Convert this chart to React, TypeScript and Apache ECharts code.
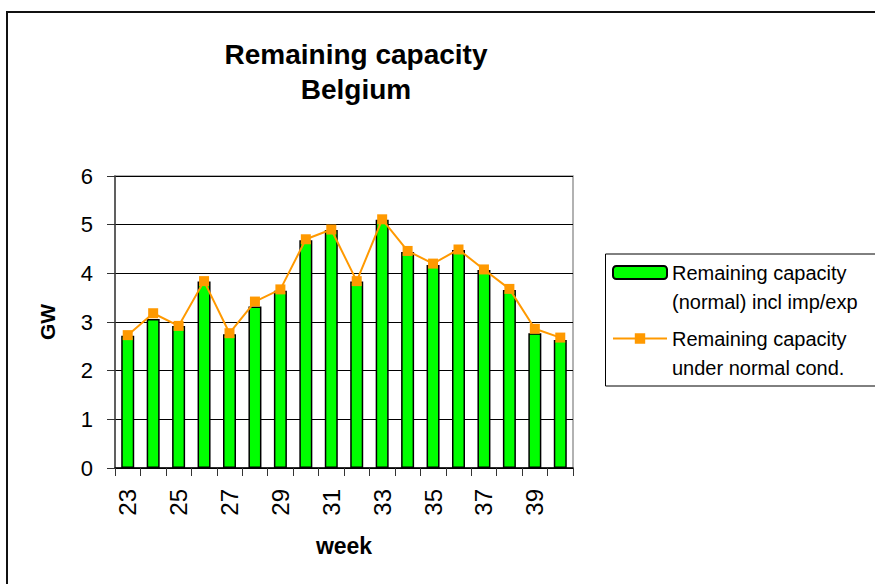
import React, { useEffect, useRef } from "react";
import * as echarts from "echarts";

const weeks = ["23","24","25","26","27","28","29","30","31","32","33","34","35","36","37","38","39","40"];
const barValues = [2.72, 3.06, 2.92, 3.83, 2.75, 3.32, 3.64, 4.68, 4.89, 3.83, 5.10, 4.44, 4.17, 4.48, 4.07, 3.66, 2.77, 2.63];
const lineValues = [2.73, 3.18, 2.92, 3.84, 2.77, 3.42, 3.67, 4.70, 4.90, 3.84, 5.11, 4.46, 4.20, 4.49, 4.08, 3.68, 2.86, 2.68];
const barName = "Remaining capacity\n(normal) incl imp/exp";
const lineName = "Remaining capacity\nunder normal cond.";
const titleText = "Remaining capacity\nBelgium";

const FONT = "'Liberation Sans', Arial, sans-serif";

export default function App() {
  const ref = useRef<HTMLDivElement>(null);
  useEffect(() => {
    if (!ref.current) return;
    const chart = echarts.init(ref.current, undefined, { renderer: "svg" });
    const legendText = {
      fontFamily: FONT,
      fontSize: 20,
      lineHeight: 29,
      color: "#000",
    };
    const legendBase = {
      orient: "vertical",
      left: 612,
      padding: 0,
      itemWidth: 54,
      itemHeight: 13,
      textStyle: legendText,
      selectedMode: false,
      formatter: (name: string) => "\n" + name,
    };
    chart.setOption({
      animation: false,
      backgroundColor: "#fff",
      title: {
        text: titleText,
        left: 356,
        top: 37,
        textAlign: "center",
        padding: 0,
        textStyle: {
          fontFamily: FONT,
          fontSize: 28,
          fontWeight: "bold",
          lineHeight: 35,
          color: "#000",
        },
      },
      graphic: [
        {
          type: "rect",
          shape: { x: 7, y: 12, width: 900, height: 600 },
          style: { fill: "none", stroke: "#111", lineWidth: 2 },
          silent: true,
        },
        {
          type: "rect",
          shape: { x: 605.5, y: 254, width: 300, height: 132 },
          style: { fill: "none", stroke: "#000", lineWidth: 1 },
          silent: true,
        },
      ],
      legend: [
        { ...legendBase, data: [barName], top: 229 },
        { ...legendBase, data: [lineName], top: 295 },
      ],
      grid: {
        left: 115,
        top: 176,
        right: 302,
        bottom: 116,
        show: true,
        borderColor: "#999",
        borderWidth: 1.5,
        backgroundColor: "#fff",
      },
      xAxis: {
        type: "category",
        data: weeks,
        boundaryGap: true,
        name: "week",
        nameLocation: "middle",
        nameGap: 66,
        nameTextStyle: { fontFamily: FONT, fontSize: 23, fontWeight: "bold", color: "#000" },
        axisLine: { show: true, lineStyle: { color: "#000", width: 1.5 } },
        axisTick: { show: true, interval: 0, alignWithLabel: false, length: 8, lineStyle: { color: "#333", width: 1 } },
        axisLabel: {
          interval: 1,
          rotate: 90,
          margin: 21,
          fontFamily: FONT,
          fontSize: 24,
          color: "#000",
        },
        splitLine: { show: false },
      },
      yAxis: {
        type: "value",
        min: 0,
        max: 6,
        interval: 1,
        name: "GW",
        nameLocation: "middle",
        nameGap: 57,
        nameRotate: 90,
        nameTextStyle: { fontFamily: FONT, fontSize: 21, fontWeight: "bold", color: "#000" },
        axisLine: { show: true, lineStyle: { color: "#444", width: 1.5 } },
        axisTick: { show: true, length: 8, lineStyle: { color: "#333", width: 1 } },
        axisLabel: { margin: 22, fontFamily: FONT, fontSize: 22, color: "#000" },
        splitLine: { show: true, lineStyle: { color: "#000", width: 1 } },
      },
      series: [
        {
          name: barName,
          type: "bar",
          data: barValues,
          barWidth: 13,
          itemStyle: { color: "#00ff00", borderColor: "#000", borderWidth: 1.5 },
        },
        {
          name: lineName,
          type: "line",
          data: lineValues,
          symbol: "rect",
          symbolSize: 10,
          lineStyle: { color: "#ff9900", width: 2 },
          itemStyle: { color: "#ff9900" },
        },
      ],
    });
    return () => chart.dispose();
  }, []);
  return (
    <div
      ref={ref}
      style={{ position: "fixed", left: 0, top: 0, width: 875, height: 584 }}
    />
  );
}
